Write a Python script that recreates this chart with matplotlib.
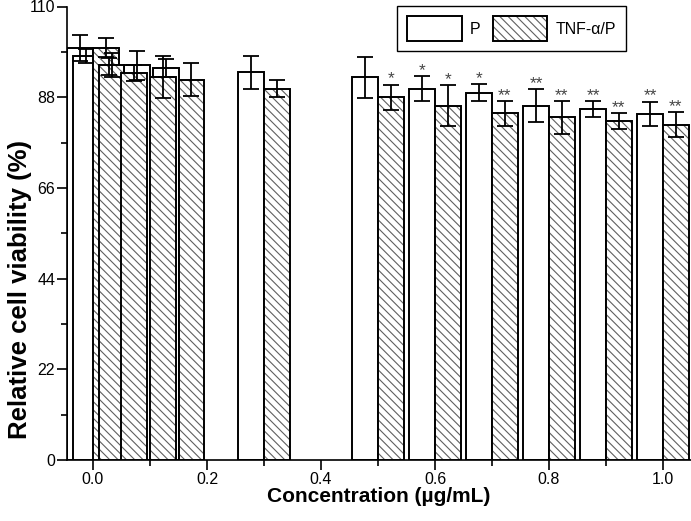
import matplotlib
matplotlib.use("Agg")
import numpy as np
import matplotlib.pyplot as plt
from matplotlib.patches import Patch
from matplotlib.ticker import MultipleLocator, FormatStrFormatter

plt.rcParams['font.family'] = ['Liberation Sans', 'DejaVu Sans']
plt.rcParams['hatch.linewidth'] = 0.8

# concentrations (ug/mL) and relative viability (%)
conc = [0.0, 0.01, 0.05, 0.1, 0.15, 0.3, 0.5, 0.6, 0.7, 0.8, 0.9, 1.0]
p_mean = [100.0, 98.0, 95.5, 95.7, 95.1, 94.0, 92.8, 90.1, 89.1, 85.9, 85.1, 83.9]
p_err = [3.2, 1.8, 2.0, 3.5, 2.2, 4.0, 5.0, 3.0, 2.0, 4.0, 2.0, 3.0]
t_mean = [100.0, 95.8, 93.9, 92.9, 92.2, 90.1, 88.0, 85.9, 84.1, 83.1, 82.2, 81.3]
t_err = [2.3, 2.8, 2.0, 5.0, 4.0, 2.0, 3.0, 5.0, 3.0, 4.0, 2.0, 3.0]
p_sig = ['', '', '', '', '', '', '', '*', '*', '**', '**', '**']
t_sig = ['', '', '', '', '', '', '*', '*', '**', '**', '**', '**']

width = 0.045
hatch = '\\\\\\\\'
hatch_col = '#606060'
lw = 1.4

fig = plt.figure(figsize=(6.91, 5.21), dpi=100)
ax = fig.add_axes([67 / 691, 61 / 521, 624 / 691, 453.5 / 521])

x = np.array(conc)

# P bars (left of each concentration)
ax.bar(x - width, p_mean, width, align='edge', facecolor='white',
       edgecolor='black', linewidth=lw, zorder=2)

# TNF-a/P bars (right of each concentration), drawn one by one
for i, c in enumerate(conc):
    z = 3 + i * 0.01
    ax.bar(c, t_mean[i], width, align='edge', facecolor='white',
           edgecolor=hatch_col, hatch=hatch, linewidth=0, zorder=z)
    ax.bar(c, t_mean[i], width, align='edge', fill=False,
           edgecolor='black', linewidth=lw, zorder=z + 0.005)

ax.errorbar(x - width / 2, p_mean, yerr=p_err, fmt='none', ecolor='black',
            elinewidth=1.3, capsize=5.5, capthick=1.3, zorder=5)
ax.errorbar(x + width / 2, t_mean, yerr=t_err, fmt='none', ecolor='black',
            elinewidth=1.3, capsize=5.5, capthick=1.3, zorder=5)

for i, c in enumerate(conc):
    if p_sig[i]:
        ax.text(c - width / 2, p_mean[i] + p_err[i] + 0.3, p_sig[i],
                ha='center', va='baseline', fontsize=12.5, color='#444444')
    if t_sig[i]:
        ax.text(c + width / 2, t_mean[i] + t_err[i] + 0.3, t_sig[i],
                ha='center', va='baseline', fontsize=12.5, color='#444444')

ax.set_xlim(-0.0456, 1.049)
ax.set_ylim(0, 110)
ax.xaxis.set_major_locator(MultipleLocator(0.2))
ax.xaxis.set_minor_locator(MultipleLocator(0.1))
ax.xaxis.set_major_formatter(FormatStrFormatter('%.1f'))
ax.yaxis.set_major_locator(MultipleLocator(22))
ax.yaxis.set_minor_locator(MultipleLocator(11))
ax.tick_params(which='major', direction='out', length=7, width=1.2,
               labelsize=11.5, pad=1.5)
ax.tick_params(which='minor', direction='out', length=4, width=1.2)

for s in ['top', 'right']:
    ax.spines[s].set_visible(False)
for s in ['left', 'bottom']:
    ax.spines[s].set_linewidth(1.2)

ax.set_xlabel('Concentration (\u00b5g/mL)', fontsize=15, fontweight='bold')
ax.set_ylabel('Relative cell viability (%)', fontsize=18.5, fontweight='bold')
ax.xaxis.set_label_coords(0.5, -0.06)
ax.yaxis.set_label_coords(-0.056, 0.375)

handles = [Patch(facecolor='white', edgecolor='black', linewidth=lw),
           (Patch(facecolor='white', edgecolor=hatch_col, hatch=hatch, linewidth=0),
            Patch(fill=False, edgecolor='black', linewidth=lw))]
leg = ax.legend(handles, ['P', 'TNF-\u03b1/P'], loc='upper left',
                bbox_to_anchor=(397 / 691, 1 - 6 / 521),
                bbox_transform=fig.transFigure, borderaxespad=0, ncol=2,
                fontsize=11.5, handlelength=3.4, handleheight=2.0,
                handletextpad=0.5, columnspacing=0.8, borderpad=0.65,
                fancybox=False, framealpha=1, edgecolor='black')
leg.get_frame().set_linewidth(1.0)

fig.savefig('out.png', dpi=100)
